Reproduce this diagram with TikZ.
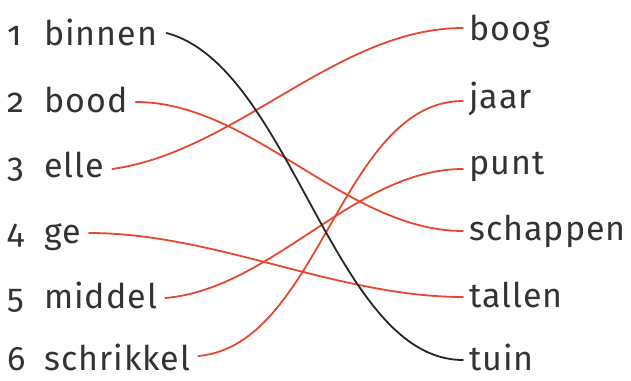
\documentclass[tikz,border=0pt]{standalone}
\usepackage{fontspec}
\setmainfont[Numbers=OldStyle,LetterSpace=3]{Fira Sans}
\definecolor{wordcol}{HTML}{333333}
\definecolor{redline}{HTML}{E5482F}
\definecolor{blackline}{HTML}{262626}
\begin{document}
\begin{tikzpicture}[x=1pt,y=1pt,
  word/.style={font=\fontsize{34}{36}\selectfont, text=wordcol, inner sep=0pt, anchor=base west},
  num/.style={font=\fontsize{34}{36}\selectfont, text=wordcol, inner sep=0pt, anchor=base west},
  link/.style={line width=1.8pt, redline, line cap=round},
  blink/.style={line width=1.8pt, blackline, line cap=round}]
\useasboundingbox (0,0) rectangle (631,-380);
% left numbers
\node[num] (n1) at (7,-45) {1};
\node[num] (n2) at (7,-112) {2};
\node[num] (n3) at (7,-177) {3};
\node[num] (n4) at (7,-243) {4};
\node[num] (n5) at (7,-308) {5};
\node[num] (n6) at (7,-370) {6};
% left words
\node[word] (l1) at (44,-45) {binnen};
\node[word] (l2) at (44,-112) {bood};
\node[word] (l3) at (44,-177) {elle};
\node[word] (l4) at (44,-243) {ge};
\node[word] (l5) at (44,-308) {middel};
\node[word] (l6) at (44,-370) {schrikkel};
% right words
\node[word] (r1) at (469,-40) {boog};
\node[word] (r2) at (469,-108) {jaar};
\node[word] (r3) at (469,-174) {punt};
\node[word] (r4) at (469,-240) {schappen};
\node[word] (r5) at (469,-307) {tallen};
\node[word] (r6) at (469,-370) {tuin};
% connectors
\draw[link] ([shift={(8,10)}]l2.base east) to[out=0,in=180,looseness=0.85] ([shift={(-6,9)}]r4.base west);
\draw[link] ([shift={(8,8)}]l3.base east) to[out=8,in=180,looseness=0.85] ([shift={(-6,12)}]r1.base west);
\draw[link] ([shift={(8,10)}]l4.base east) to[out=0,in=180,looseness=0.85] ([shift={(-6,10)}]r5.base west);
\draw[link] ([shift={(8,10)}]l5.base east) to[out=5,in=180,looseness=0.85] ([shift={(-6,5)}]r3.base west);
\draw[link] ([shift={(8,14)}]l6.base east) to[out=5,in=180,looseness=0.85] ([shift={(-6,7)}]r2.base west);
\draw[blink] ([shift={(9,12)}]l1.base east) to[out=-15,in=180,looseness=0.75] ([shift={(-6,10)}]r6.base west);
\end{tikzpicture}
\end{document}
